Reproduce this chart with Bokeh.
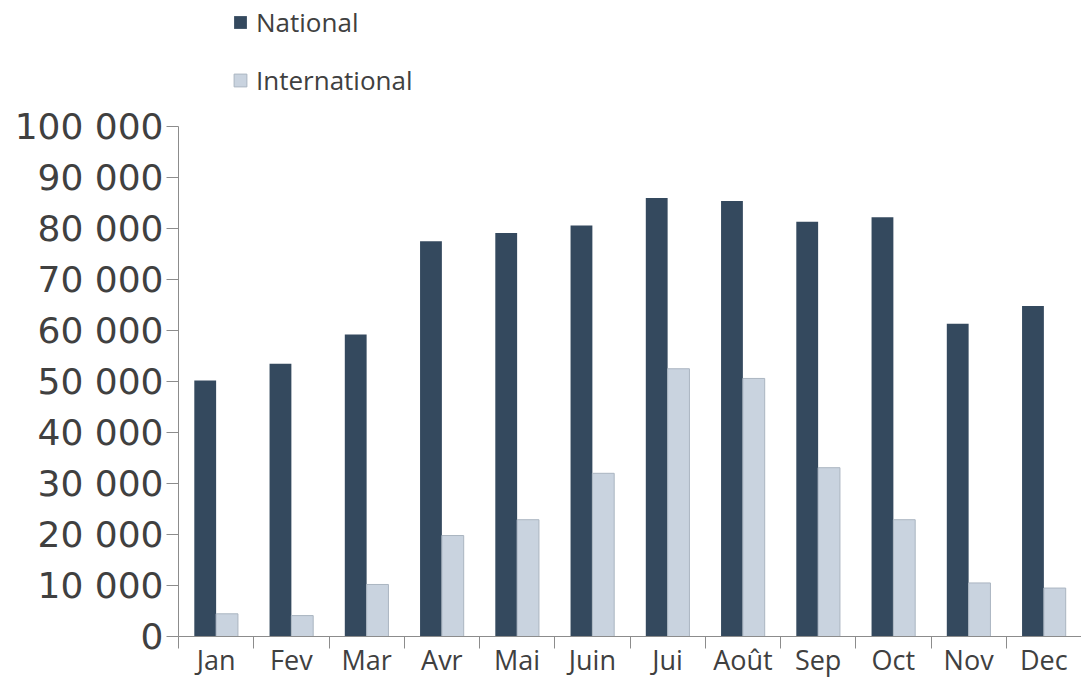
from bokeh.plotting import figure
from bokeh.models import ColumnDataSource, Range1d, FixedTicker
from bokeh.embed import file_html
from bokeh.resources import INLINE
import numpy as np

months = ["Jan", "Fev", "Mar", "Avr", "Mai", "Juin", "Jui", "Août", "Sep", "Oct", "Nov", "Dec"]
national = [50200, 53500, 59200, 77500, 79100, 80600, 86000, 85400, 81300, 82200, 61300, 64800]
international = [4450, 4100, 10200, 19800, 22900, 32000, 52500, 50600, 33100, 22900, 10500, 9500]
y_ticks = [0, 10000, 20000, 30000, 40000, 50000, 60000, 70000, 80000, 90000, 100000]
y_tick_labels = ["0", "10 000", "20 000", "30 000", "40 000", "50 000", "60 000",
                 "70 000", "80 000", "90 000", "100 000"]

idx = np.arange(len(months))
bar_w = 0.29
src = ColumnDataSource(dict(
    xn=idx + 0.5 - bar_w / 2,
    xi=idx + 0.5 + bar_w / 2,
    national=national,
    international=international,
))

# frame spans the full height so the legend (above the 100 000 line) stays inside it
frame_top_px = 636
axis_top_px = 510
y_max = y_ticks[-1] * frame_top_px / axis_top_px

p = figure(width=1081, height=690, output_backend="svg", toolbar_location=None,
           x_range=Range1d(0, len(months)), y_range=Range1d(0, y_max),
           min_border_left=178, min_border_top=0, min_border_bottom=54, min_border_right=0)
p.outline_line_color = None
p.grid.visible = False

p.vbar(x="xn", top="national", width=bar_w, source=src, fill_color="#34495e",
       line_color=None, legend_label="National")
p.vbar(x="xi", top="international", width=bar_w, source=src, fill_color="#c9d3df",
       line_color="#aab5c1", line_width=1, legend_label="International")

text_color = "#404040"
axis_color = "#8c8c8c"

# x axis: labels at centers, ticks at category boundaries
p.xaxis.ticker = FixedTicker(ticks=list(idx + 0.5), minor_ticks=list(range(len(months) + 1)))
p.xaxis.major_label_overrides = {float(i + 0.5): m for i, m in enumerate(months)}
p.xaxis.major_tick_line_color = None
p.xaxis.minor_tick_line_color = axis_color
p.xaxis.minor_tick_out = 12
p.xaxis.minor_tick_in = 0
p.xaxis.major_tick_out = 0
p.xaxis.major_tick_in = 0
p.xaxis.axis_line_color = axis_color
p.xaxis.major_label_text_font = "Open Sans"
p.xaxis.major_label_text_font_size = "27px"
p.xaxis.major_label_text_color = text_color
p.xaxis.major_label_standoff = -8

p.yaxis.ticker = FixedTicker(ticks=y_ticks, minor_ticks=[])
p.yaxis.bounds = (y_ticks[0], y_ticks[-1])
p.yaxis.major_label_overrides = {t: l for t, l in zip(y_ticks, y_tick_labels)}
p.yaxis.axis_line_color = axis_color
p.yaxis.major_tick_line_color = axis_color
p.yaxis.major_tick_out = 12
p.yaxis.major_tick_in = 0
p.yaxis.major_label_text_font = "DejaVu Sans"
p.yaxis.major_label_text_font_size = "36px"
p.yaxis.major_label_text_color = text_color
p.yaxis.major_label_standoff = 3

lg = p.legend[0]
lg.location = (54, 538)
lg.orientation = "vertical"
lg.border_line_color = None
lg.background_fill_alpha = 0
lg.padding = 0
lg.margin = 0
lg.glyph_width = 16
lg.glyph_height = 16
lg.label_height = 28
lg.spacing = 22
lg.label_standoff = 8
lg.label_text_font = "Open Sans"
lg.label_text_font_size = "26px"
lg.label_text_color = text_color

open("out.html", "w").write(file_html(p, INLINE))
